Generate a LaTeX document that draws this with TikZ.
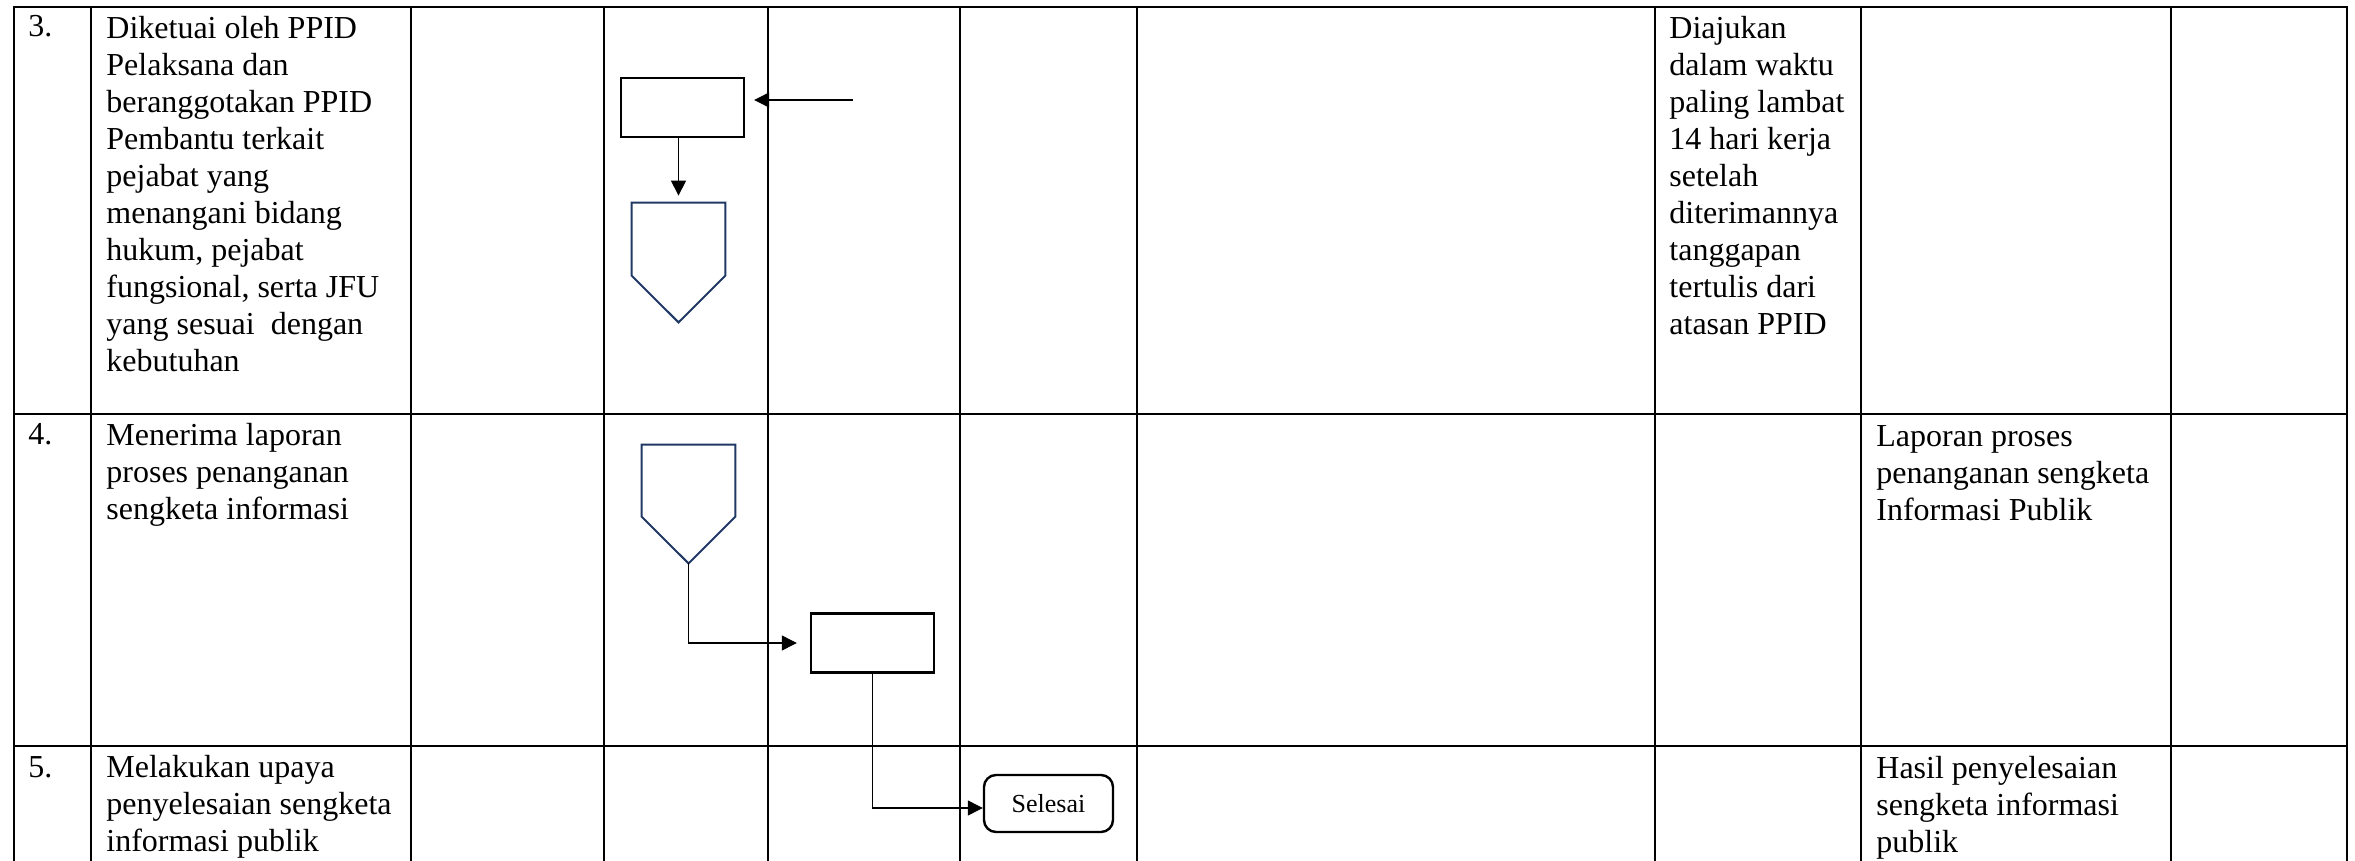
\documentclass[tikz,border=0pt]{standalone}
\usepackage{fontspec}
\setmainfont{Liberation Serif}
\usetikzlibrary{arrows.meta,calc}
\definecolor{navy}{HTML}{1F3864}

\begin{document}
\begin{tikzpicture}[x=0.5pt,y=-0.5pt,
  gridline/.style={line width=1pt, line cap=rect},
  cell/.style={anchor=north west, inner sep=0pt, align=left,
    font=\fontsize{16}{18.5}\selectfont},
  num/.style={anchor=base west, inner sep=0pt,
    font=\fontsize{16}{18.5}\selectfont},
  procbox/.style={draw, line width=1.2pt, minimum width=61.5pt,
    minimum height=29.5pt, inner sep=0pt},
  holder/.style={inner sep=0pt, minimum width=46.5pt},
  penta/.style={draw=navy, line width=1pt, line join=miter},
  endbox/.style={draw, line width=1.2pt, rounded corners=6pt,
    minimum width=64.5pt, minimum height=28.5pt, inner sep=0pt,
    font=\fontsize{13}{15}\selectfont},
  conn/.style={line width=0.6pt, -{Triangle[length=7.5pt, width=7.5pt]}}
]
\useasboundingbox (0,0) rectangle (2355,861);

% table grid
\foreach \c in {14,91,411,604,768,960,1137,1655,1861,2171,2347}
  \draw[gridline] (\c,7) -- (\c,861);
\foreach \r in {7,414,746}
  \draw[gridline] (14,\r) -- (2347,\r);

% row 3
\node[num] (n3) at (28,37) {3.};
\node[cell] (a3) at (106,12) {\strut Diketuai oleh PPID\\\strut Pelaksana dan\\\strut beranggotakan PPID\\\strut Pembantu terkait\\\strut pejabat yang\\\strut menangani bidang\\\strut hukum, pejabat\\\strut fungsional, serta JFU\\\strut yang sesuai\ \ dengan\\\strut kebutuhan};
\node[cell] (w3) at (1669,12) {\strut Diajukan\\\strut dalam waktu\\\strut paling lambat\\\strut 14 hari kerja\\\strut setelah\\\strut diterimannya\\\strut tanggapan\\\strut tertulis dari\\\strut atasan PPID};

% row 4
\node[num] (n4) at (28,444) {4.};
\node[cell] (a4) at (106,419) {\strut Menerima laporan\\\strut proses penanganan\\\strut sengketa informasi};
\node[cell] (o4) at (1876,420) {\strut Laporan proses\\\strut penanganan sengketa\\\strut Informasi Publik};

% row 5
\node[num] (n5) at (28,777) {5.};
\node[cell] (a5) at (106,751) {\strut Melakukan upaya\\\strut penyelesaian sengketa\\\strut informasi publik};
\node[cell] (o5) at (1876,752) {\strut Hasil penyelesaian\\\strut sengketa informasi\\\strut publik};

% flow shapes
\node[procbox] (r1) at (682.5,107.5) {};
\node[holder, minimum height=59.5pt] (p1) at (678.5,262.5) {};
\draw[penta] (p1.north west) -- (p1.north east) -- ([yshift=-36.5pt]p1.north east)
  -- (p1.south) -- ([yshift=-36.5pt]p1.north west) -- cycle;

\node[holder, minimum height=59pt] (p2) at (688.5,504) {};
\draw[penta] (p2.north west) -- (p2.north east) -- ([yshift=-36pt]p2.north east)
  -- (p2.south) -- ([yshift=-36pt]p2.north west) -- cycle;

\node[procbox] (r2) at (872.5,643) {};
\node[endbox] (sel) at (1048.5,803.5) {Selesai};

% connectors
\coordinate (in1) at (853,100);
\draw[conn, shorten >=4.5pt] (in1) -- (in1 -| r1.east);
\draw[conn, shorten >=3.5pt] (p1.north |- r1.south) -- (p1.north);
\draw[conn, shorten >=6.5pt] (p2.south) |- (r2.west);
\draw[conn] (r2.south) |- ([yshift=-2.25pt]sel.west);
\end{tikzpicture}
\end{document}
